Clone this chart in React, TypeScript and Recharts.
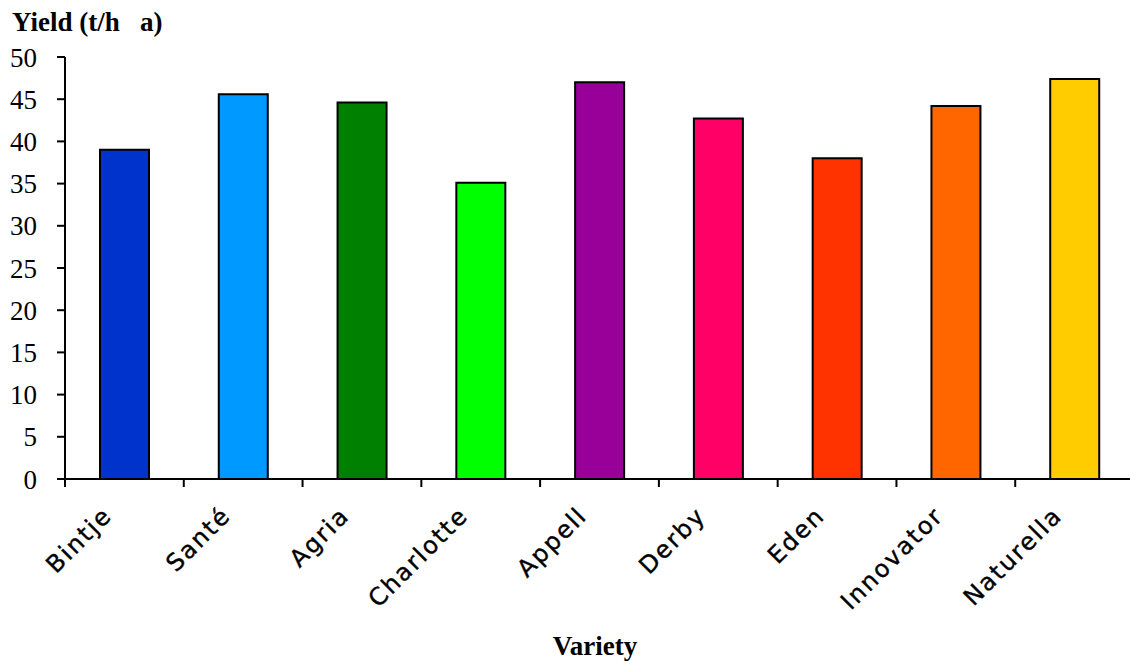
import React from "react";
import { BarChart, Bar, XAxis, YAxis, Cell } from "recharts";

const varieties = [
  "Bintje",
  "Santé",
  "Agria",
  "Charlotte",
  "Appell",
  "Derby",
  "Eden",
  "Innovator",
  "Naturella",
];
const yields = [39.0, 45.6, 44.6, 35.1, 47.0, 42.7, 38.0, 44.2, 47.4];
const barColors = [
  "#0033cc",
  "#0099ff",
  "#008000",
  "#00ff00",
  "#990099",
  "#ff0066",
  "#ff3300",
  "#ff6600",
  "#ffcc00",
];
const yTicks = [0, 5, 10, 15, 20, 25, 30, 35, 40, 45, 50];

const CHART_W = 1134;
const CHART_H = 661;
const Y_AXIS_W = 65;
const X_AXIS_H = 30;
const MARGIN = { top: 57, right: 0, bottom: 182 - X_AXIS_H, left: 0 };
const BAND = (CHART_W - Y_AXIS_W) / varieties.length;

const data = varieties.map((name, i) => ({ name, value: yields[i] }));

// eslint-disable-next-line @typescript-eslint/no-explicit-any
function CategoryTick({ x, y, payload }: any) {
  const edge = x - BAND / 2;
  const tx = x - 11;
  const ty = y + 38;
  return (
    <g>
      <line x1={edge} x2={edge} y1={y} y2={y + 8} stroke="#000" strokeWidth={2} />
      <text
        x={tx}
        y={ty}
        textAnchor="end"
        transform={`rotate(-45, ${tx}, ${ty})`}
        fontFamily="DejaVu Sans"
        fontSize={24}
        letterSpacing={2}
        stroke="#000"
        strokeWidth={0.4}
        fill="#000"
      >
        {payload.value}
      </text>
    </g>
  );
}

export default function App() {
  return (
    <div
      style={{
        position: "absolute",
        left: 0,
        top: 0,
        width: 1130,
        height: 661,
        overflow: "hidden",
        background: "#fff",
      }}
    >
      <div
        style={{
          position: "absolute",
          left: 12,
          top: 7,
          fontFamily: "Liberation Serif",
          fontWeight: "bold",
          fontSize: 27,
          whiteSpace: "pre",
        }}
      >
        {"Yield (t/h   a)"}
      </div>
      <BarChart width={CHART_W} height={CHART_H} data={data} margin={MARGIN}>
        <XAxis
          dataKey="name"
          height={X_AXIS_H}
          axisLine={{ stroke: "#000", strokeWidth: 2 }}
          tickLine={false}
          tickSize={0}
          tickMargin={0}
          interval={0}
          tick={<CategoryTick />}
        />
        <YAxis
          domain={[0, 50]}
          ticks={yTicks}
          interval={0}
          axisLine={{ stroke: "#000", strokeWidth: 2 }}
          tickLine={{ stroke: "#000", strokeWidth: 2 }}
          tickSize={8}
          tickMargin={20}
          width={Y_AXIS_W}
          tick={{ fontFamily: "Liberation Serif", fontSize: 27, fill: "#000" }}
        />
        <Bar dataKey="value" barSize={49} stroke="#000" strokeWidth={2} isAnimationActive={false}>
          {data.map((d, i) => (
            <Cell key={d.name} fill={barColors[i]} />
          ))}
        </Bar>
      </BarChart>
      <div
        style={{
          position: "absolute",
          left: 0,
          width: 1190,
          top: 631,
          textAlign: "center",
          fontFamily: "Liberation Serif",
          fontWeight: "bold",
          fontSize: 27,
        }}
      >
        Variety
      </div>
    </div>
  );
}
